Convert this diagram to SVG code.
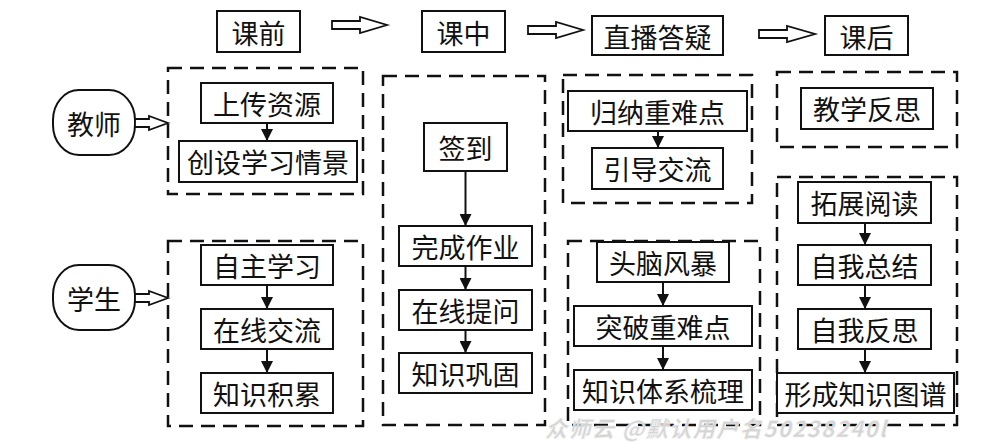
<svg xmlns="http://www.w3.org/2000/svg" width="997" height="446" viewBox="0 0 997 446">
<style>
  .bg { fill: #ffffff; }
  .box { fill: #ffffff; stroke: #111111; stroke-width: 2; }
  .dash { fill: none; stroke: #111111; stroke-width: 2.5; stroke-dasharray: 14 8; }
  .oval { fill: #ffffff; stroke: #111111; stroke-width: 2; }
  .hollow { fill: #ffffff; stroke: #111111; stroke-width: 1.8; stroke-linejoin: miter; }
  .lbl { font-family: "Noto Sans CJK SC", "Noto Sans", sans-serif; font-size: 27px; fill: #111111; text-anchor: middle; dominant-baseline: central; }
  .conn { stroke: #111111; stroke-width: 2; fill: none; marker-end: url(#ah); }
  .wm { font-family: "Noto Sans CJK SC", sans-serif; font-size: 22px; font-weight: bold; font-style: italic; letter-spacing: 1.5px; fill: #d4d4d4; stroke: #eeeeee; stroke-width: 0.6; }
</style>
<defs>
  <marker id="ah" viewBox="0 0 12 12" markerWidth="12" markerHeight="12" refX="12" refY="6" orient="auto" markerUnits="userSpaceOnUse">
    <path d="M0,0 L12,6 L0,12 z" fill="#111111"/>
  </marker>
</defs>
<rect class="bg" x="0" y="0" width="997" height="446"/>

<!-- header stages -->
<g id="stage-before"><rect class="box" x="217" y="11" width="83" height="41"/><text class="lbl" x="258.5" y="32">课前</text></g>
<g id="stage-during"><rect class="box" x="422" y="11" width="83" height="41"/><text class="lbl" x="463.5" y="32">课中</text></g>
<g id="stage-live"><rect class="box" x="592" y="16" width="131" height="39"/><text class="lbl" x="657.5" y="36">直播答疑</text></g>
<g id="stage-after"><rect class="box" x="825" y="16" width="83" height="39"/><text class="lbl" x="866.5" y="36">课后</text></g>

<!-- actors -->
<g id="teacher"><rect class="oval" x="53" y="90" width="82" height="65" rx="26" ry="30"/><text class="lbl" x="94" y="123">教师</text></g>
<g id="student"><rect class="oval" x="53" y="265" width="82" height="65" rx="26" ry="30"/><text class="lbl" x="94" y="298">学生</text></g>

<!-- dashed groups -->
<g id="grp-teacher-before"><rect class="dash" x="168" y="68" width="195" height="126"/></g>
<g id="grp-student-before"><rect class="dash" x="168" y="241" width="195" height="185"/></g>
<g id="grp-during"><rect class="dash" x="383" y="76" width="162" height="349"/></g>
<g id="grp-live-top"><rect class="dash" x="563" y="75" width="189" height="128"/></g>
<g id="grp-live-bottom"><rect class="dash" x="568" y="241" width="192" height="184"/></g>
<g id="grp-after-top"><rect class="dash" x="777" y="72" width="180" height="75"/></g>
<g id="grp-after-bottom"><rect class="dash" x="777" y="177" width="180" height="248"/></g>

<!-- nodes -->
<g id="n-upload"><rect class="box" x="201" y="83" width="132" height="40"/><text class="lbl" x="267" y="103">上传资源</text></g>
<g id="n-scene"><rect class="box" x="179" y="141" width="178" height="41"/><text class="lbl" x="268" y="161.5">创设学习情景</text></g>
<g id="n-selfstudy"><rect class="box" x="201" y="245" width="132" height="40"/><text class="lbl" x="267" y="265">自主学习</text></g>
<g id="n-online"><rect class="box" x="201" y="309" width="132" height="40"/><text class="lbl" x="267" y="329">在线交流</text></g>
<g id="n-accum"><rect class="box" x="201" y="373" width="132" height="40"/><text class="lbl" x="267" y="393">知识积累</text></g>

<g id="n-signin"><rect class="box" x="424" y="123" width="83" height="48"/><text class="lbl" x="465.5" y="147">签到</text></g>
<g id="n-homework"><rect class="box" x="399" y="226" width="133" height="40"/><text class="lbl" x="465.5" y="246">完成作业</text></g>
<g id="n-ask"><rect class="box" x="399" y="290" width="133" height="40"/><text class="lbl" x="465.5" y="310">在线提问</text></g>
<g id="n-consol"><rect class="box" x="399" y="353" width="133" height="40"/><text class="lbl" x="465.5" y="373">知识巩固</text></g>

<g id="n-summarize"><rect class="box" x="568" y="91" width="179" height="40"/><text class="lbl" x="657.5" y="111">归纳重难点</text></g>
<g id="n-guide"><rect class="box" x="592" y="148" width="131" height="41"/><text class="lbl" x="657.5" y="168.5">引导交流</text></g>
<g id="n-brainstorm"><rect class="box" x="597" y="242" width="132" height="40"/><text class="lbl" x="663" y="262">头脑风暴</text></g>
<g id="n-breakthrough"><rect class="box" x="574" y="306" width="178" height="40"/><text class="lbl" x="663" y="326">突破重难点</text></g>
<g id="n-system"><rect class="box" x="574" y="370" width="178" height="40"/><text class="lbl" x="663" y="390">知识体系梳理</text></g>

<g id="n-reflect-t"><rect class="box" x="801" y="88" width="132" height="41"/><text class="lbl" x="867" y="108.5">教学反思</text></g>
<g id="n-read"><rect class="box" x="798" y="182" width="133" height="41"/><text class="lbl" x="864.5" y="202.5">拓展阅读</text></g>
<g id="n-selfsum"><rect class="box" x="798" y="245" width="133" height="40"/><text class="lbl" x="864.5" y="265">自我总结</text></g>
<g id="n-selfreflect"><rect class="box" x="798" y="309" width="133" height="40"/><text class="lbl" x="864.5" y="329">自我反思</text></g>
<g id="n-map"><rect class="box" x="777" y="373" width="177" height="40"/><text class="lbl" x="865.5" y="393">形成知识图谱</text></g>

<!-- connectors -->
<g id="connectors">
  <polygon class="hollow" points="332,21 360,21 360,17 387,25 360,33 360,29 332,29"/>
  <polygon class="hollow" points="528,26 556,26 556,22 583,30 556,38 556,34 528,34"/>
  <polygon class="hollow" points="759,30 787,30 787,26 815,34 787,42 787,38 759,38"/>
  <polygon class="hollow" points="135,119 149,119 149,116 168,123 149,130 149,127 135,127"/>
  <polygon class="hollow" points="135,294 149,294 149,291 168,298 149,305 149,302 135,302"/>

  <line class="conn" x1="267" y1="123" x2="267" y2="141"/>
  <line class="conn" x1="267" y1="285" x2="267" y2="309"/>
  <line class="conn" x1="267" y1="349" x2="267" y2="373"/>
  <line class="conn" x1="465.5" y1="171" x2="465.5" y2="226"/>
  <line class="conn" x1="465.5" y1="266" x2="465.5" y2="290"/>
  <line class="conn" x1="465.5" y1="330" x2="465.5" y2="353"/>
  <line class="conn" x1="658" y1="131" x2="658" y2="148"/>
  <line class="conn" x1="663" y1="282" x2="663" y2="306"/>
  <line class="conn" x1="663" y1="346" x2="663" y2="370"/>
  <line class="conn" x1="865" y1="223" x2="865" y2="245"/>
  <line class="conn" x1="865" y1="285" x2="865" y2="309"/>
  <line class="conn" x1="865" y1="349" x2="865" y2="373"/>
</g>

<text class="wm" x="545" y="437">众师云 @默认用户名50238240l</text>
</svg>
